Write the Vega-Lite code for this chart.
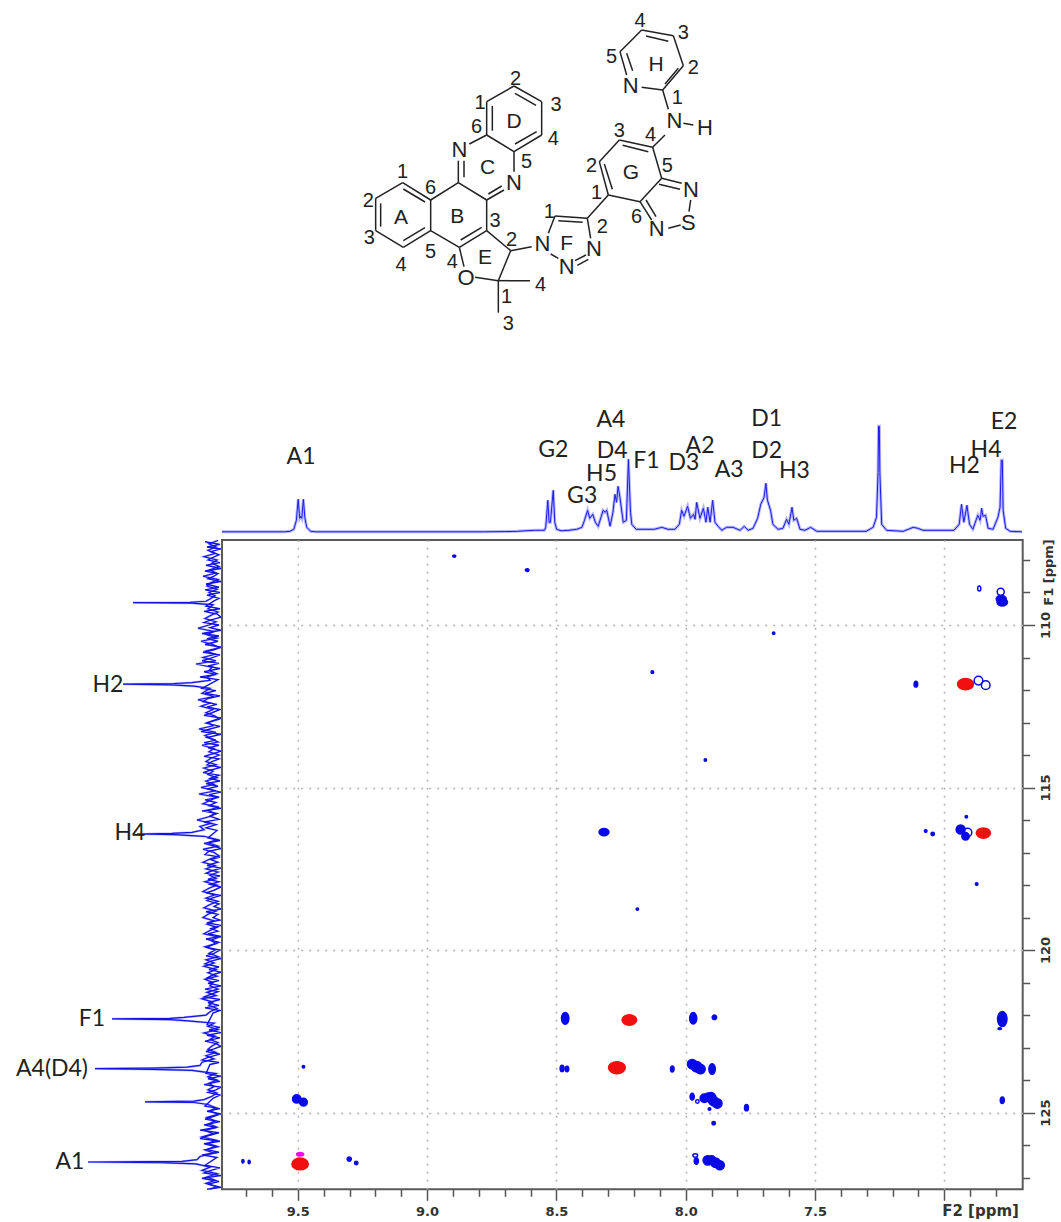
{"$schema":"https://vega.github.io/schema/vega-lite/v6.json","padding":0,"background":"white","spacing":0,"bounds":"flush","config":{"view":{"stroke":null},"concat":{"spacing":0}},
"datasets":{
"bonds":[{"a":188,"b":548,"c":272,"d":600},{"a":272,"b":600,"c":272,"d":692},{"a":272,"b":692,"c":190,"d":742},{"a":190,"b":742,"c":107,"d":692},{"a":107,"b":692,"c":107,"d":595},{"a":107,"b":595,"c":188,"d":548},{"a":190,"b":567,"c":255,"d":606},{"a":122,"b":610,"c":122,"d":680},{"a":190,"b":722,"c":255,"d":683},{"a":272,"b":600,"c":355,"d":548},{"a":355,"b":548,"c":440,"d":600},{"a":440,"b":600,"c":440,"d":692},{"a":440,"b":692,"c":358,"d":742},{"a":358,"b":742,"c":272,"d":692},{"a":362,"b":720,"c":425,"d":682},{"a":355,"b":548,"c":355,"d":482},{"a":372,"b":532,"c":372,"d":482},{"a":388,"b":432,"c":440,"d":405},{"a":440,"b":405,"c":440,"d":305},{"a":440,"b":305,"c":522,"d":258},{"a":522,"b":258,"c":605,"d":305},{"a":605,"b":305,"c":605,"d":405},{"a":605,"b":405,"c":522,"d":455},{"a":522,"b":455,"c":440,"d":405},{"a":457,"b":318,"c":457,"d":392},{"a":525,"b":280,"c":588,"d":316},{"a":590,"b":395,"c":525,"d":432},{"a":522,"b":455,"c":522,"d":515},{"a":440,"b":600,"c":492,"d":570},{"a":445,"b":582,"c":485,"d":558},{"a":440,"b":692,"c":512,"d":752},{"a":512,"b":752,"c":475,"d":842},{"a":475,"b":842,"c":405,"d":832},{"a":372,"b":800,"c":358,"d":742},{"a":475,"b":842,"c":570,"d":842},{"a":475,"b":842,"c":475,"d":938},{"a":512,"b":752,"c":575,"d":740},{"a":625,"b":700,"c":645,"d":648},{"a":645,"b":648,"c":742,"d":655},{"a":655,"b":662,"c":728,"d":667},{"a":742,"b":655,"c":752,"d":715},{"a":705,"b":782,"c":738,"d":765},{"a":712,"b":796,"c":745,"d":778},{"a":632,"b":762,"c":655,"d":775},{"a":742,"b":655,"c":805,"d":585},{"a":805,"b":585,"c":778,"d":485},{"a":778,"b":485,"c":838,"d":420},{"a":838,"b":420,"c":938,"d":442},{"a":938,"b":442,"c":965,"d":535},{"a":965,"b":535,"c":900,"d":605},{"a":900,"b":605,"c":805,"d":585},{"a":793,"b":492,"c":817,"d":568},{"a":848,"b":436,"c":925,"d":455},{"a":965,"b":535,"c":1025,"d":550},{"a":957,"b":553,"c":1020,"d":568},{"a":1052,"b":600,"c":1047,"d":635},{"a":1022,"b":675,"c":985,"d":685},{"a":900,"b":605,"c":935,"d":660},{"a":918,"b":600,"c":948,"d":650},{"a":938,"b":442,"c":975,"d":405},{"a":1030,"b":370,"c":1060,"d":375},{"a":985,"b":328,"c":968,"d":270},{"a":968,"b":270,"c":905,"d":262},{"a":968,"b":270,"c":1030,"d":197},{"a":975,"b":252,"c":1015,"d":205},{"a":1030,"b":197,"c":1000,"d":107},{"a":1000,"b":107,"c":905,"d":90},{"a":985,"b":124,"c":918,"d":108},{"a":905,"b":90,"c":840,"d":155},{"a":840,"b":155,"c":860,"d":225},{"a":860,"b":160,"c":878,"d":212}],
"atoms":[{"t":"N","a":358,"b":450,"k":"atom"},{"t":"N","a":522,"b":548,"k":"atom"},{"t":"O","a":378,"b":835,"k":"atom"},{"t":"N","a":607,"b":733,"k":"atom"},{"t":"N","a":680,"b":800,"k":"atom"},{"t":"N","a":762,"b":748,"k":"atom"},{"t":"N","a":872,"b":258,"k":"atom"},{"t":"N","a":1003,"b":363,"k":"atom"},{"t":"H","a":1095,"b":385,"k":"atom"},{"t":"N","a":1053,"b":570,"k":"atom"},{"t":"S","a":1045,"b":668,"k":"atom"},{"t":"N","a":950,"b":688,"k":"atom"},{"t":"A","a":183,"b":655,"k":"ring"},{"t":"B","a":352,"b":652,"k":"ring"},{"t":"C","a":443,"b":505,"k":"ring"},{"t":"D","a":522,"b":365,"k":"ring"},{"t":"E","a":435,"b":775,"k":"ring"},{"t":"F","a":680,"b":733,"k":"ring"},{"t":"G","a":873,"b":520,"k":"ring"},{"t":"H","a":948,"b":195,"k":"ring"},{"t":"1","a":188,"b":515,"k":"num"},{"t":"2","a":85,"b":603,"k":"num"},{"t":"3","a":88,"b":715,"k":"num"},{"t":"4","a":183,"b":795,"k":"num"},{"t":"5","a":272,"b":757,"k":"num"},{"t":"6","a":272,"b":565,"k":"num"},{"t":"4","a":337,"b":785,"k":"num"},{"t":"6","a":410,"b":380,"k":"num"},{"t":"1","a":420,"b":310,"k":"num"},{"t":"2","a":527,"b":237,"k":"num"},{"t":"3","a":648,"b":315,"k":"num"},{"t":"4","a":640,"b":418,"k":"num"},{"t":"5","a":560,"b":487,"k":"num"},{"t":"3","a":465,"b":662,"k":"num"},{"t":"2","a":515,"b":720,"k":"num"},{"t":"1","a":500,"b":890,"k":"num"},{"t":"4","a":602,"b":855,"k":"num"},{"t":"3","a":505,"b":972,"k":"num"},{"t":"1","a":628,"b":635,"k":"num"},{"t":"2","a":787,"b":680,"k":"num"},{"t":"1","a":770,"b":580,"k":"num"},{"t":"2","a":755,"b":497,"k":"num"},{"t":"3","a":838,"b":393,"k":"num"},{"t":"4","a":932,"b":405,"k":"num"},{"t":"5","a":982,"b":497,"k":"num"},{"t":"6","a":890,"b":650,"k":"num"},{"t":"1","a":1012,"b":295,"k":"num"},{"t":"2","a":1060,"b":205,"k":"num"},{"t":"3","a":1030,"b":98,"k":"num"},{"t":"4","a":900,"b":62,"k":"num"},{"t":"5","a":815,"b":172,"k":"num"}],
"proton":[{"p":9.793,"h":0.5},{"p":9.55,"h":0.5},{"p":9.53,"h":1},{"p":9.515,"h":3},{"p":9.505,"h":12},{"p":9.498,"h":33},{"p":9.492,"h":14},{"p":9.488,"h":16},{"p":9.484,"h":14},{"p":9.478,"h":33},{"p":9.472,"h":14},{"p":9.465,"h":5},{"p":9.45,"h":1},{"p":9.43,"h":0.5},{"p":8.78,"h":0.5},{"p":8.7,"h":0.7},{"p":8.65,"h":1},{"p":8.62,"h":1.5},{"p":8.58,"h":2},{"p":8.56,"h":2},{"p":8.545,"h":2},{"p":8.54,"h":5},{"p":8.532,"h":32},{"p":8.527,"h":10},{"p":8.522,"h":10},{"p":8.511,"h":42},{"p":8.505,"h":10},{"p":8.498,"h":3},{"p":8.48,"h":1.5},{"p":8.45,"h":2},{"p":8.42,"h":3},{"p":8.4,"h":5},{"p":8.39,"h":12},{"p":8.378,"h":22},{"p":8.37,"h":14},{"p":8.358,"h":18},{"p":8.348,"h":10},{"p":8.337,"h":6},{"p":8.325,"h":16},{"p":8.318,"h":22},{"p":8.31,"h":20},{"p":8.304,"h":22},{"p":8.291,"h":6},{"p":8.28,"h":20},{"p":8.272,"h":38},{"p":8.266,"h":30},{"p":8.26,"h":46},{"p":8.253,"h":35},{"p":8.24,"h":10},{"p":8.228,"h":12},{"p":8.22,"h":73},{"p":8.212,"h":20},{"p":8.207,"h":8},{"p":8.19,"h":3},{"p":8.175,"h":3},{"p":8.12,"h":3},{"p":8.091,"h":5},{"p":8.067,"h":3},{"p":8.04,"h":3},{"p":8.023,"h":8},{"p":8.014,"h":22},{"p":8.005,"h":16},{"p":7.991,"h":26},{"p":7.98,"h":14},{"p":7.968,"h":18},{"p":7.962,"h":13},{"p":7.956,"h":30},{"p":7.943,"h":14},{"p":7.93,"h":24},{"p":7.92,"h":10},{"p":7.913,"h":25},{"p":7.904,"h":10},{"p":7.894,"h":32},{"p":7.885,"h":10},{"p":7.873,"h":6},{"p":7.859,"h":2},{"p":7.84,"h":5},{"p":7.815,"h":5},{"p":7.788,"h":2},{"p":7.772,"h":6},{"p":7.757,"h":2},{"p":7.738,"h":4},{"p":7.72,"h":14},{"p":7.708,"h":28},{"p":7.695,"h":35},{"p":7.688,"h":49},{"p":7.682,"h":32},{"p":7.67,"h":22},{"p":7.661,"h":8},{"p":7.641,"h":3},{"p":7.622,"h":4},{"p":7.608,"h":13},{"p":7.599,"h":8},{"p":7.587,"h":25},{"p":7.58,"h":12},{"p":7.569,"h":14},{"p":7.556,"h":3},{"p":7.537,"h":2},{"p":7.515,"h":5},{"p":7.491,"h":1},{"p":7.3,"h":1},{"p":7.273,"h":5},{"p":7.26,"h":15},{"p":7.254,"h":60},{"p":7.252,"h":106},{"p":7.249,"h":106},{"p":7.247,"h":60},{"p":7.24,"h":8},{"p":7.221,"h":2},{"p":7.157,"h":1},{"p":7.118,"h":5},{"p":7.1,"h":4},{"p":7.08,"h":2},{"p":6.96,"h":2},{"p":6.94,"h":8},{"p":6.931,"h":28},{"p":6.922,"h":10},{"p":6.91,"h":27},{"p":6.9,"h":8},{"p":6.887,"h":3},{"p":6.868,"h":17},{"p":6.859,"h":12},{"p":6.853,"h":24},{"p":6.848,"h":16},{"p":6.838,"h":17},{"p":6.828,"h":4},{"p":6.809,"h":3},{"p":6.79,"h":15},{"p":6.782,"h":25},{"p":6.777,"h":72},{"p":6.773,"h":72},{"p":6.77,"h":22},{"p":6.76,"h":4},{"p":6.743,"h":1},{"p":6.697,"h":0.5}],
"protonLabels":[{"t":"A1","p":9.487,"h":75.6},{"t":"G2","p":8.511,"h":82},{"t":"A4","p":8.288,"h":112},{"t":"D4","p":8.283,"h":81},{"t":"H5","p":8.324,"h":58},{"t":"G3","p":8.399,"h":36},{"t":"F1","p":8.15,"h":71},{"t":"D3","p":8.005,"h":69},{"t":"A2","p":7.943,"h":86},{"t":"A3","p":7.83,"h":62},{"t":"D1","p":7.685,"h":113},{"t":"D2","p":7.685,"h":81},{"t":"H3","p":7.578,"h":61},{"t":"H2","p":6.92,"h":66},{"t":"H4","p":6.836,"h":82},{"t":"E2","p":6.766,"h":110}],
"carbon":[{"c":107.4,"i":4},{"c":107.5,"i":13},{"c":107.6,"i":6},{"c":107.7,"i":14},{"c":107.8,"i":7},{"c":107.9,"i":18},{"c":108,"i":5},{"c":108.1,"i":10},{"c":108.2,"i":3},{"c":108.3,"i":12},{"c":108.4,"i":6},{"c":108.5,"i":19},{"c":108.6,"i":4},{"c":108.7,"i":11},{"c":108.8,"i":15},{"c":108.9,"i":5},{"c":109,"i":13},{"c":109.1,"i":7},{"c":109.2,"i":12},{"c":109.27,"i":16},{"c":109.3,"i":32},{"c":109.31,"i":89},{"c":109.33,"i":30},{"c":109.38,"i":9},{"c":109.5,"i":14},{"c":109.6,"i":4},{"c":109.7,"i":11},{"c":109.8,"i":17},{"c":109.9,"i":6},{"c":110,"i":13},{"c":110.1,"i":24},{"c":110.2,"i":8},{"c":110.3,"i":15},{"c":110.4,"i":5},{"c":110.5,"i":21},{"c":110.6,"i":9},{"c":110.7,"i":3},{"c":110.8,"i":16},{"c":110.9,"i":7},{"c":111,"i":19},{"c":111.1,"i":6},{"c":111.2,"i":26},{"c":111.3,"i":10},{"c":111.4,"i":13},{"c":111.5,"i":5},{"c":111.6,"i":15},{"c":111.7,"i":12},{"c":111.77,"i":30},{"c":111.8,"i":48},{"c":111.82,"i":99},{"c":111.84,"i":50},{"c":111.88,"i":28},{"c":111.95,"i":12},{"c":112.1,"i":20},{"c":112.2,"i":8},{"c":112.3,"i":24},{"c":112.4,"i":12},{"c":112.5,"i":21},{"c":112.6,"i":9},{"c":112.7,"i":16},{"c":112.8,"i":7},{"c":112.9,"i":3},{"c":113,"i":14},{"c":113.1,"i":9},{"c":113.2,"i":23},{"c":113.3,"i":6},{"c":113.4,"i":17},{"c":113.5,"i":11},{"c":113.6,"i":4},{"c":113.7,"i":20},{"c":113.8,"i":8},{"c":113.9,"i":13},{"c":114,"i":3},{"c":114.1,"i":11},{"c":114.2,"i":16},{"c":114.3,"i":6},{"c":114.4,"i":18},{"c":114.5,"i":9},{"c":114.6,"i":14},{"c":114.7,"i":5},{"c":114.8,"i":16},{"c":114.9,"i":8},{"c":115,"i":21},{"c":115.1,"i":6},{"c":115.2,"i":23},{"c":115.3,"i":5},{"c":115.4,"i":12},{"c":115.5,"i":19},{"c":115.6,"i":3},{"c":115.7,"i":14},{"c":115.8,"i":7},{"c":115.9,"i":13},{"c":116,"i":25},{"c":116.1,"i":11},{"c":116.2,"i":22},{"c":116.3,"i":18},{"c":116.38,"i":30},{"c":116.41,"i":50},{"c":116.43,"i":85},{"c":116.45,"i":48},{"c":116.5,"i":18},{"c":116.6,"i":5},{"c":116.7,"i":14},{"c":116.8,"i":4},{"c":116.9,"i":19},{"c":117,"i":8},{"c":117.1,"i":3},{"c":117.2,"i":12},{"c":117.3,"i":19},{"c":117.4,"i":7},{"c":117.5,"i":16},{"c":117.6,"i":4},{"c":117.7,"i":12},{"c":117.8,"i":6},{"c":117.9,"i":17},{"c":118,"i":5},{"c":118.1,"i":13},{"c":118.2,"i":19},{"c":118.3,"i":7},{"c":118.4,"i":16},{"c":118.5,"i":4},{"c":118.6,"i":12},{"c":118.7,"i":18},{"c":118.8,"i":6},{"c":118.9,"i":14},{"c":119,"i":19},{"c":119.1,"i":8},{"c":119.2,"i":15},{"c":119.3,"i":5},{"c":119.4,"i":12},{"c":119.5,"i":18},{"c":119.6,"i":3},{"c":119.7,"i":11},{"c":119.8,"i":6},{"c":119.9,"i":17},{"c":120,"i":7},{"c":120.1,"i":13},{"c":120.2,"i":4},{"c":120.3,"i":16},{"c":120.4,"i":8},{"c":120.5,"i":18},{"c":120.6,"i":6},{"c":120.7,"i":14},{"c":120.8,"i":5},{"c":120.9,"i":17},{"c":121,"i":9},{"c":121.1,"i":12},{"c":121.2,"i":4},{"c":121.3,"i":15},{"c":121.4,"i":6},{"c":121.5,"i":20},{"c":121.6,"i":9},{"c":121.7,"i":13},{"c":121.8,"i":5},{"c":121.9,"i":12},{"c":122,"i":16},{"c":122.07,"i":38},{"c":122.1,"i":52},{"c":122.12,"i":110},{"c":122.14,"i":52},{"c":122.18,"i":34},{"c":122.25,"i":8},{"c":122.35,"i":14},{"c":122.45,"i":4},{"c":122.55,"i":18},{"c":122.65,"i":7},{"c":122.75,"i":12},{"c":122.85,"i":4},{"c":122.95,"i":10},{"c":123.05,"i":14},{"c":123.15,"i":6},{"c":123.25,"i":16},{"c":123.35,"i":8},{"c":123.45,"i":20},{"c":123.55,"i":22},{"c":123.6,"i":35},{"c":123.63,"i":70},{"c":123.65,"i":127},{"c":123.67,"i":70},{"c":123.7,"i":30},{"c":123.8,"i":6},{"c":123.9,"i":14},{"c":124,"i":5},{"c":124.1,"i":13},{"c":124.2,"i":8},{"c":124.3,"i":14},{"c":124.4,"i":5},{"c":124.5,"i":10},{"c":124.6,"i":18},{"c":124.65,"i":28},{"c":124.67,"i":77},{"c":124.69,"i":28},{"c":124.75,"i":14},{"c":124.85,"i":6},{"c":124.95,"i":12},{"c":125.05,"i":4},{"c":125.15,"i":15},{"c":125.25,"i":7},{"c":125.35,"i":13},{"c":125.45,"i":5},{"c":125.55,"i":17},{"c":125.65,"i":9},{"c":125.75,"i":20},{"c":125.85,"i":6},{"c":125.95,"i":14},{"c":126.05,"i":4},{"c":126.15,"i":17},{"c":126.25,"i":8},{"c":126.35,"i":22},{"c":126.45,"i":25},{"c":126.5,"i":40},{"c":126.52,"i":134},{"c":126.54,"i":60},{"c":126.58,"i":26},{"c":126.68,"i":12},{"c":126.78,"i":20},{"c":126.88,"i":5},{"c":126.98,"i":15},{"c":127.08,"i":7},{"c":127.18,"i":16},{"c":127.28,"i":5},{"c":127.35,"i":12}],
"carbonNoise":[{"c":107.44,"i":17},{"c":107.52,"i":2},{"c":107.6,"i":15},{"c":107.66,"i":1},{"c":107.74,"i":11},{"c":107.84,"i":3},{"c":107.92,"i":9},{"c":108,"i":14},{"c":108.08,"i":2},{"c":108.16,"i":16},{"c":108.26,"i":1},{"c":108.34,"i":17},{"c":108.42,"i":4},{"c":108.5,"i":8},{"c":108.58,"i":14},{"c":108.66,"i":1},{"c":108.74,"i":16},{"c":108.84,"i":3},{"c":108.92,"i":17},{"c":109,"i":2},{"c":109.08,"i":15},{"c":109.18,"i":3},{"c":109.26,"i":8},{"c":109.42,"i":16},{"c":109.5,"i":2},{"c":109.58,"i":18},{"c":109.66,"i":5},{"c":109.76,"i":1},{"c":109.84,"i":11},{"c":109.92,"i":18},{"c":110,"i":3},{"c":110.08,"i":12},{"c":110.16,"i":1},{"c":110.26,"i":20},{"c":110.34,"i":3},{"c":110.42,"i":15},{"c":110.5,"i":4},{"c":110.6,"i":17},{"c":110.68,"i":1},{"c":110.76,"i":8},{"c":110.84,"i":19},{"c":110.92,"i":2},{"c":111.02,"i":11},{"c":111.1,"i":20},{"c":111.18,"i":3},{"c":111.26,"i":14},{"c":111.34,"i":2},{"c":111.44,"i":18},{"c":111.52,"i":6},{"c":111.6,"i":22},{"c":111.68,"i":4},{"c":111.95,"i":20},{"c":112.02,"i":6},{"c":112.1,"i":17},{"c":112.18,"i":2},{"c":112.26,"i":14},{"c":112.36,"i":19},{"c":112.44,"i":5},{"c":112.52,"i":15},{"c":112.6,"i":2},{"c":112.7,"i":10},{"c":112.78,"i":18},{"c":112.86,"i":1},{"c":112.94,"i":9},{"c":113.02,"i":16},{"c":113.12,"i":2},{"c":113.2,"i":12},{"c":113.28,"i":21},{"c":113.36,"i":1},{"c":113.46,"i":15},{"c":113.54,"i":6},{"c":113.62,"i":18},{"c":113.7,"i":3},{"c":113.78,"i":14},{"c":113.88,"i":1},{"c":113.96,"i":9},{"c":114.04,"i":18},{"c":114.12,"i":3},{"c":114.2,"i":10},{"c":114.3,"i":15},{"c":114.38,"i":1},{"c":114.46,"i":11},{"c":114.54,"i":19},{"c":114.62,"i":3},{"c":114.72,"i":12},{"c":114.8,"i":2},{"c":114.88,"i":16},{"c":114.96,"i":4},{"c":115.04,"i":15},{"c":115.14,"i":1},{"c":115.22,"i":13},{"c":115.3,"i":3},{"c":115.38,"i":17},{"c":115.46,"i":6},{"c":115.56,"i":13},{"c":115.64,"i":1},{"c":115.72,"i":20},{"c":115.8,"i":5},{"c":115.88,"i":12},{"c":115.98,"i":3},{"c":116.06,"i":18},{"c":116.14,"i":6},{"c":116.24,"i":16},{"c":116.32,"i":5},{"c":116.55,"i":14},{"c":116.63,"i":2},{"c":116.72,"i":18},{"c":116.8,"i":8},{"c":116.88,"i":1},{"c":116.96,"i":13},{"c":117.06,"i":17},{"c":117.14,"i":2},{"c":117.22,"i":11},{"c":117.3,"i":4},{"c":117.4,"i":15},{"c":117.48,"i":1},{"c":117.56,"i":10},{"c":117.64,"i":16},{"c":117.72,"i":2},{"c":117.82,"i":14},{"c":117.9,"i":3},{"c":117.98,"i":12},{"c":118.06,"i":1},{"c":118.16,"i":8},{"c":118.24,"i":16},{"c":118.32,"i":1},{"c":118.4,"i":10},{"c":118.48,"i":15},{"c":118.58,"i":3},{"c":118.66,"i":8},{"c":118.74,"i":1},{"c":118.82,"i":16},{"c":118.9,"i":4},{"c":119,"i":9},{"c":119.08,"i":2},{"c":119.16,"i":15},{"c":119.24,"i":1},{"c":119.34,"i":11},{"c":119.42,"i":4},{"c":119.5,"i":14},{"c":119.58,"i":1},{"c":119.66,"i":16},{"c":119.76,"i":3},{"c":119.84,"i":10},{"c":119.92,"i":15},{"c":120,"i":2},{"c":120.1,"i":8},{"c":120.18,"i":16},{"c":120.26,"i":1},{"c":120.34,"i":11},{"c":120.42,"i":17},{"c":120.52,"i":3},{"c":120.6,"i":13},{"c":120.68,"i":1},{"c":120.76,"i":9},{"c":120.86,"i":15},{"c":120.94,"i":3},{"c":121.02,"i":14},{"c":121.1,"i":1},{"c":121.2,"i":17},{"c":121.28,"i":4},{"c":121.36,"i":11},{"c":121.44,"i":18},{"c":121.52,"i":2},{"c":121.62,"i":14},{"c":121.7,"i":3},{"c":121.78,"i":17},{"c":121.86,"i":2},{"c":121.94,"i":9},{"c":122.3,"i":15},{"c":122.38,"i":2},{"c":122.46,"i":13},{"c":122.54,"i":1},{"c":122.62,"i":15},{"c":122.7,"i":2},{"c":122.8,"i":17},{"c":122.88,"i":6},{"c":122.96,"i":1},{"c":123.04,"i":8},{"c":123.12,"i":16},{"c":123.2,"i":2},{"c":123.3,"i":14},{"c":123.38,"i":20},{"c":123.46,"i":3},{"c":123.52,"i":12},{"c":123.8,"i":16},{"c":123.88,"i":1},{"c":123.96,"i":14},{"c":124.04,"i":2},{"c":124.14,"i":18},{"c":124.22,"i":1},{"c":124.3,"i":6},{"c":124.38,"i":14},{"c":124.46,"i":2},{"c":124.56,"i":9},{"c":124.8,"i":17},{"c":124.88,"i":2},{"c":124.96,"i":15},{"c":125.04,"i":1},{"c":125.12,"i":9},{"c":125.2,"i":17},{"c":125.28,"i":2},{"c":125.38,"i":18},{"c":125.46,"i":6},{"c":125.54,"i":22},{"c":125.62,"i":3},{"c":125.72,"i":15},{"c":125.8,"i":22},{"c":125.88,"i":2},{"c":125.96,"i":18},{"c":126.04,"i":7},{"c":126.14,"i":15},{"c":126.22,"i":3},{"c":126.3,"i":20},{"c":126.38,"i":5},{"c":126.62,"i":17},{"c":126.7,"i":2},{"c":126.78,"i":11},{"c":126.86,"i":18},{"c":126.94,"i":1},{"c":127.02,"i":20},{"c":127.12,"i":3},{"c":127.2,"i":14},{"c":127.3,"i":1},{"c":127.36,"i":15}],
"carbonLabels":[{"t":"H2","c":111.85,"i":114},{"t":"H4","c":116.41,"i":92},{"t":"F1","c":122.12,"i":130},{"t":"A4(D4)","c":123.65,"i":170},{"t":"A1","c":126.53,"i":152}],
"spots":[{"f2":8.895,"f1":107.88,"area":9,"form":"wide","phase":"pos"},{"f2":8.613,"f1":108.31,"area":14,"form":"wide","phase":"pos"},{"f2":6.865,"f1":108.88,"area":25,"form":"tall","phase":"ring"},{"f2":6.782,"f1":108.98,"area":50,"form":"round","phase":"ring"},{"f2":6.78,"f1":109.2,"area":100,"form":"wide","phase":"pos"},{"f2":6.776,"f1":109.3,"area":110,"form":"wide","phase":"pos"},{"f2":7.66,"f1":110.25,"area":6,"form":"round","phase":"pos"},{"f2":8.129,"f1":111.45,"area":7,"form":"round","phase":"pos"},{"f2":7.11,"f1":111.82,"area":35,"form":"tall","phase":"pos"},{"f2":6.918,"f1":111.82,"area":250,"form":"wide","phase":"neg"},{"f2":6.868,"f1":111.71,"area":75,"form":"round","phase":"ring"},{"f2":6.84,"f1":111.85,"area":75,"form":"round","phase":"ring"},{"f2":7.924,"f1":114.15,"area":6,"form":"round","phase":"pos"},{"f2":8.316,"f1":116.37,"area":100,"form":"wide","phase":"pos"},{"f2":7.072,"f1":116.34,"area":7,"form":"round","phase":"pos"},{"f2":7.045,"f1":116.43,"area":12,"form":"round","phase":"pos"},{"f2":6.915,"f1":115.9,"area":6,"form":"round","phase":"pos"},{"f2":6.937,"f1":116.29,"area":80,"form":"round","phase":"pos"},{"f2":6.91,"f1":116.38,"area":70,"form":"round","phase":"ring"},{"f2":6.918,"f1":116.5,"area":55,"form":"round","phase":"pos"},{"f2":6.849,"f1":116.4,"area":200,"form":"wide","phase":"neg"},{"f2":6.875,"f1":117.97,"area":7,"form":"round","phase":"pos"},{"f2":8.187,"f1":118.74,"area":6,"form":"round","phase":"pos"},{"f2":8.466,"f1":122.1,"area":140,"form":"tall","phase":"pos"},{"f2":8.218,"f1":122.15,"area":210,"form":"wide","phase":"neg"},{"f2":7.971,"f1":122.1,"area":130,"form":"tall","phase":"pos"},{"f2":7.889,"f1":122.07,"area":20,"form":"round","phase":"pos"},{"f2":6.776,"f1":122.12,"area":230,"form":"tall","phase":"pos"},{"f2":6.786,"f1":122.42,"area":12,"form":"flat","phase":"pos"},{"f2":9.478,"f1":123.59,"area":6,"form":"round","phase":"pos"},{"f2":8.478,"f1":123.64,"area":40,"form":"tall","phase":"pos"},{"f2":8.459,"f1":123.66,"area":30,"form":"tall","phase":"pos"},{"f2":8.266,"f1":123.62,"area":280,"form":"wide","phase":"neg"},{"f2":8.052,"f1":123.66,"area":35,"form":"tall","phase":"pos"},{"f2":7.975,"f1":123.51,"area":90,"form":"round","phase":"pos"},{"f2":7.958,"f1":123.59,"area":110,"form":"round","phase":"pos"},{"f2":7.943,"f1":123.66,"area":90,"form":"round","phase":"pos"},{"f2":7.898,"f1":123.66,"area":110,"form":"tall","phase":"pos"},{"f2":9.504,"f1":124.58,"area":70,"form":"round","phase":"pos"},{"f2":9.478,"f1":124.68,"area":60,"form":"round","phase":"pos"},{"f2":7.975,"f1":124.51,"area":45,"form":"tall","phase":"pos"},{"f2":7.955,"f1":124.66,"area":12,"form":"round","phase":"ring"},{"f2":7.928,"f1":124.56,"area":70,"form":"round","phase":"pos"},{"f2":7.912,"f1":124.53,"area":75,"form":"round","phase":"pos"},{"f2":7.902,"f1":124.53,"area":90,"form":"round","phase":"pos"},{"f2":7.893,"f1":124.64,"area":90,"form":"round","phase":"pos"},{"f2":7.878,"f1":124.72,"area":90,"form":"round","phase":"pos"},{"f2":7.908,"f1":124.89,"area":7,"form":"round","phase":"pos"},{"f2":7.765,"f1":124.85,"area":40,"form":"tall","phase":"pos"},{"f2":7.892,"f1":125.33,"area":12,"form":"round","phase":"pos"},{"f2":6.776,"f1":124.62,"area":42,"form":"tall","phase":"pos"},{"f2":9.712,"f1":126.5,"area":12,"form":"tall","phase":"pos"},{"f2":9.688,"f1":126.52,"area":12,"form":"tall","phase":"pos"},{"f2":9.491,"f1":126.58,"area":270,"form":"wide","phase":"neg"},{"f2":9.491,"f1":126.28,"area":50,"form":"flat","phase":"mag"},{"f2":9.301,"f1":126.43,"area":18,"form":"round","phase":"pos"},{"f2":9.274,"f1":126.55,"area":12,"form":"round","phase":"pos"},{"f2":7.963,"f1":126.32,"area":22,"form":"wide","phase":"ring"},{"f2":7.959,"f1":126.49,"area":45,"form":"tall","phase":"pos"},{"f2":7.915,"f1":126.47,"area":85,"form":"round","phase":"pos"},{"f2":7.9,"f1":126.46,"area":70,"form":"round","phase":"pos"},{"f2":7.885,"f1":126.54,"area":90,"form":"round","phase":"pos"},{"f2":7.868,"f1":126.62,"area":80,"form":"round","phase":"pos"}]
},
"vconcat":[
{"width":1061,"height":395,"layer":[
{"data":{"name":"bonds"},"mark":{"type":"rule","color":"#222","strokeWidth":1.5},"encoding":{"x":{"field":"a","type":"quantitative","scale":{"domain":[-1020,2163],"nice":false,"zero":false},"axis":null},"y":{"field":"b","type":"quantitative","scale":{"domain":[1185,0],"nice":false,"zero":false},"axis":null},"x2":{"field":"c"},"y2":{"field":"d"}}},
{"data":{"name":"atoms"},"mark":{"type":"text","font":"Liberation Sans","color":"#222","baseline":"middle","align":"center"},"encoding":{"x":{"field":"a","type":"quantitative"},"y":{"field":"b","type":"quantitative"},"text":{"field":"t"},"size":{"field":"k","type":"nominal","scale":{"domain":["atom","ring","num"],"range":[22,20,18]},"legend":null}}}
]},
{"width":1061,"height":145,"layer":[
{"data":{"name":"proton"},"mark":{"type":"line","color":"#7a7aff","strokeWidth":3,"opacity":0.55,"interpolate":"linear"},"encoding":{"x":{"field":"p","type":"quantitative","scale":{"domain":[10.652,6.546],"nice":false,"zero":false},"axis":null},"y":{"field":"h","type":"quantitative","scale":{"domain":[-7.7,137.3],"nice":false,"zero":false},"axis":null},"order":{"field":"p","sort":"descending"}}},
{"data":{"name":"proton"},"mark":{"type":"line","color":"#1c1ce8","strokeWidth":1},"encoding":{"x":{"field":"p","type":"quantitative"},"y":{"field":"h","type":"quantitative"},"order":{"field":"p","sort":"descending"}}},
{"data":{"name":"protonLabels"},"mark":{"type":"text","font":"Lato","fontSize":23,"color":"#222","baseline":"middle","align":"center"},"encoding":{"x":{"field":"p","type":"quantitative"},"y":{"field":"h","type":"quantitative"},"text":{"field":"t"}}}
]},
{"spacing":0,"bounds":"flush","hconcat":[
{"width":222,"height":649.3,"layer":[
{"data":{"name":"carbon"},"mark":{"type":"line","color":"#7a7aff","strokeWidth":2.2,"opacity":0.55},"encoding":{"x":{"field":"i","type":"quantitative","scale":{"domain":[222,0],"nice":false,"zero":false},"axis":null},"y":{"field":"c","type":"quantitative","scale":{"domain":[107.385,127.36],"reverse":true,"nice":false,"zero":false},"axis":null},"order":{"field":"c"}}},
{"data":{"name":"carbonNoise"},"mark":{"type":"line","color":"#1212e6","strokeWidth":1.4},"encoding":{"x":{"field":"i","type":"quantitative"},"y":{"field":"c","type":"quantitative"},"order":{"field":"c"}}},
{"data":{"name":"carbon"},"mark":{"type":"line","color":"#1212e6","strokeWidth":1.2},"encoding":{"x":{"field":"i","type":"quantitative"},"y":{"field":"c","type":"quantitative"},"order":{"field":"c"}}},
{"data":{"name":"carbonLabels"},"mark":{"type":"text","font":"Lato","fontSize":23,"color":"#222","baseline":"middle","align":"center"},"encoding":{"x":{"field":"i","type":"quantitative"},"y":{"field":"c","type":"quantitative"},"text":{"field":"t"}}}
]},
{"width":800.7,"height":649.3,"view":{"stroke":"#5a5a5a","strokeWidth":2},"data":{"name":"spots"},"mark":{"type":"point","filled":true,"strokeWidth":1.5,"opacity":1},"encoding":{
"x":{"field":"f2","type":"quantitative","scale":{"domain":[9.793,6.697],"nice":false,"zero":false},"axis":{"orient":"bottom","values":[9.7,9.6,9.5,9.4,9.3,9.2,9.1,9,8.9,8.8,8.7,8.6,8.5,8.4,8.3,8.2,8.1,8,7.9,7.8,7.7,7.6,7.5,7.4,7.3,7.2,7.1,7,6.9,6.8],"labelExpr":"abs(datum.value*2-round(datum.value*2))<0.01 && datum.value>7.2 ? format(datum.value,'.1f') : ''","labelFont":"DejaVu Sans","labelFontWeight":"bold","labelFontSize":13,"labelColor":"#333","labelPadding":5,"labelOverlap":false,"domain":false,"tickColor":"#555","tickWidth":1.5,"tickSize":{"condition":{"test":"abs(datum.value*2-round(datum.value*2))<0.01","value":11},"value":7},"grid":true,"gridColor":"#b5b5b5","gridWidth":1.5,"gridDash":[2,6],"gridOpacity":{"condition":{"test":"abs(datum.value*2-round(datum.value*2))<0.01","value":1},"value":0},"title":"F2 [ppm]","titleFont":"DejaVu Sans","titleFontWeight":"bold","titleFontSize":15,"titleColor":"#333","titleX":758,"titleY":21,"titleAlign":"center","titleBaseline":"middle"}},
"y":{"field":"f1","type":"quantitative","scale":{"domain":[107.385,127.36],"reverse":true,"nice":false,"zero":false},"axis":{"orient":"right","values":[108,109,110,111,112,113,114,115,116,117,118,119,120,121,122,123,124,125,126,127],"labelExpr":"datum.value%5==0 ? format(datum.value,'d') : ''","labelFont":"DejaVu Sans","labelFontWeight":"bold","labelFontSize":13,"labelColor":"#333","labelAngle":-90,"labelAlign":"center","labelBaseline":"middle","labelPadding":11,"labelOverlap":false,"domain":false,"tickColor":"#555","tickWidth":1.5,"tickSize":{"condition":{"test":"datum.value%5==0","value":12},"value":7},"grid":true,"gridColor":"#b5b5b5","gridWidth":1.5,"gridDash":[2,6],"gridOpacity":{"condition":{"test":"datum.value%5==0","value":1},"value":0},"title":"F1 [ppm]","titleFont":"DejaVu Sans","titleFontWeight":"bold","titleFontSize":13,"titleColor":"#333","titleAngle":-90,"titleX":26,"titleY":32,"titleAlign":"center","titleBaseline":"middle"}},
"size":{"field":"area","type":"quantitative","scale":null},
"shape":{"field":"form","type":"nominal","scale":{"domain":["round","wide","tall","flat"],"range":["M-1,0A1,1 0 1,1 1,0A1,1 0 1,1 -1,0Z","M-1,0A1,0.72 0 1,1 1,0A1,0.72 0 1,1 -1,0Z","M-0.62,0A0.62,1 0 1,1 0.62,0A0.62,1 0 1,1 -0.62,0Z","M-1,0A1,0.5 0 1,1 1,0A1,0.5 0 1,1 -1,0Z"]},"legend":null},
"fill":{"field":"phase","type":"nominal","scale":{"domain":["pos","neg","mag","ring"],"range":["#0a0ae6","#f01010","#f010e0","transparent"]},"legend":null},
"stroke":{"field":"phase","type":"nominal","scale":{"domain":["pos","neg","mag","ring"],"range":["#0a0ae6","#f01010","#f010e0","#0a0ae6"]},"legend":null}
}}
]}
]}
